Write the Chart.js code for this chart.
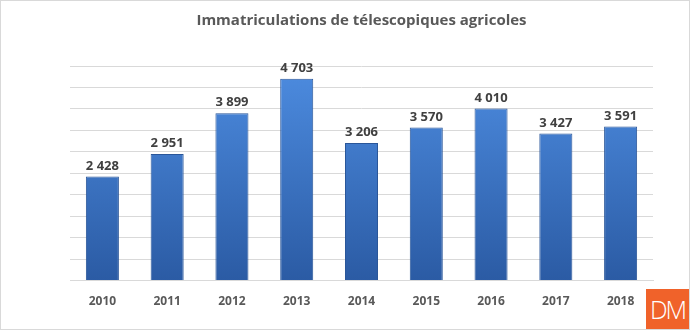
<!DOCTYPE html>
<html lang="fr">
<head>
<meta charset="utf-8">
<title>Immatriculations de télescopiques agricoles</title>
<script src="https://cdn.jsdelivr.net/npm/chart.js@4/dist/chart.umd.min.js"></script>
<style>
    html, body { margin: 0; padding: 0; background: #fff; }
    #wrap {
        position: relative;
        width: 690px;
        height: 330px;
        box-sizing: border-box;
        border: 1px solid #d9d9d9;
        overflow: hidden;
    }
    #logo {
        position: absolute;
        right: 0;
        bottom: 0;
        width: 43px;
        height: 40px;
        background: #f0622a;
        color: #fff;
        font: 300 25px "Open Sans", sans-serif;
        letter-spacing: -2px;
        line-height: 40px;
        text-align: center;
    }
</style>
</head>
<body>
<div id="wrap">
    <canvas id="chart" width="688" height="328"></canvas>
    <div id="logo">DM</div>
</div>
<script>
// ============================
// DONNÉES
// ============================

const annees = ['2010', '2011', '2012', '2013', '2014', '2015', '2016', '2017', '2018'];
const immatriculations = [2428, 2951, 3899, 4703, 3206, 3570, 4010, 3427, 3591];
const titre = 'Immatriculations de télescopiques agricoles';

// 2428 -> "2 428"
function formatNombre(v) {
    return String(v).replace(/\B(?=(\d{3})+(?!\d))/g, ' ');
}

// Dégradé bleu des barres
function barGradient(context) {
    const area = context.chart.chartArea;
    if (!area) return '#3a74c6';
    const g = context.chart.ctx.createLinearGradient(0, area.top, 0, area.bottom);
    g.addColorStop(0, '#4d8ce0');
    g.addColorStop(1, '#2b5ba4');
    return g;
}

// Valeurs au-dessus des barres
const valeursPlugin = {
    id: 'valeurs',
    afterDatasetsDraw(chart) {
        const c = chart.ctx;
        const meta = chart.getDatasetMeta(0);
        c.save();
        c.font = 'bold 13px "Open Sans", sans-serif';
        c.fillStyle = '#404040';
        c.textAlign = 'center';
        c.textBaseline = 'bottom';
        meta.data.forEach((bar, i) => {
            c.fillText(formatNombre(immatriculations[i]), bar.x, bar.y - 4);
        });
        c.restore();
    }
};

new Chart(document.getElementById('chart'), {
    type: 'bar',
    data: {
        labels: annees,
        datasets: [{
            data: immatriculations,
            backgroundColor: barGradient,
            borderColor: '#2a5699',
            borderWidth: 1,
            barPercentage: 0.51,
            categoryPercentage: 1
        }]
    },
    options: {
        responsive: false,
        animation: false,
        layout: {
            padding: { left: 69, right: 36, top: 0, bottom: 14 }
        },
        plugins: {
            legend: { display: false },
            tooltip: { enabled: false },
            title: {
                display: true,
                text: titre,
                color: '#595959',
                font: { family: '"Open Sans", sans-serif', size: 15, weight: 'bold' },
                padding: { top: 11, bottom: 36 }
            }
        },
        scales: {
            x: {
                grid: { display: false },
                border: { color: '#d9d9d9' },
                ticks: {
                    color: '#595959',
                    font: { family: '"Open Sans", sans-serif', size: 12, weight: 'bold' },
                    padding: 6
                }
            },
            y: {
                min: 0,
                max: 5000,
                ticks: { display: false, stepSize: 500 },
                grid: { color: '#d9d9d9', drawTicks: false },
                border: { display: false }
            }
        }
    },
    plugins: [valeursPlugin]
});
</script>
</body>
</html>
